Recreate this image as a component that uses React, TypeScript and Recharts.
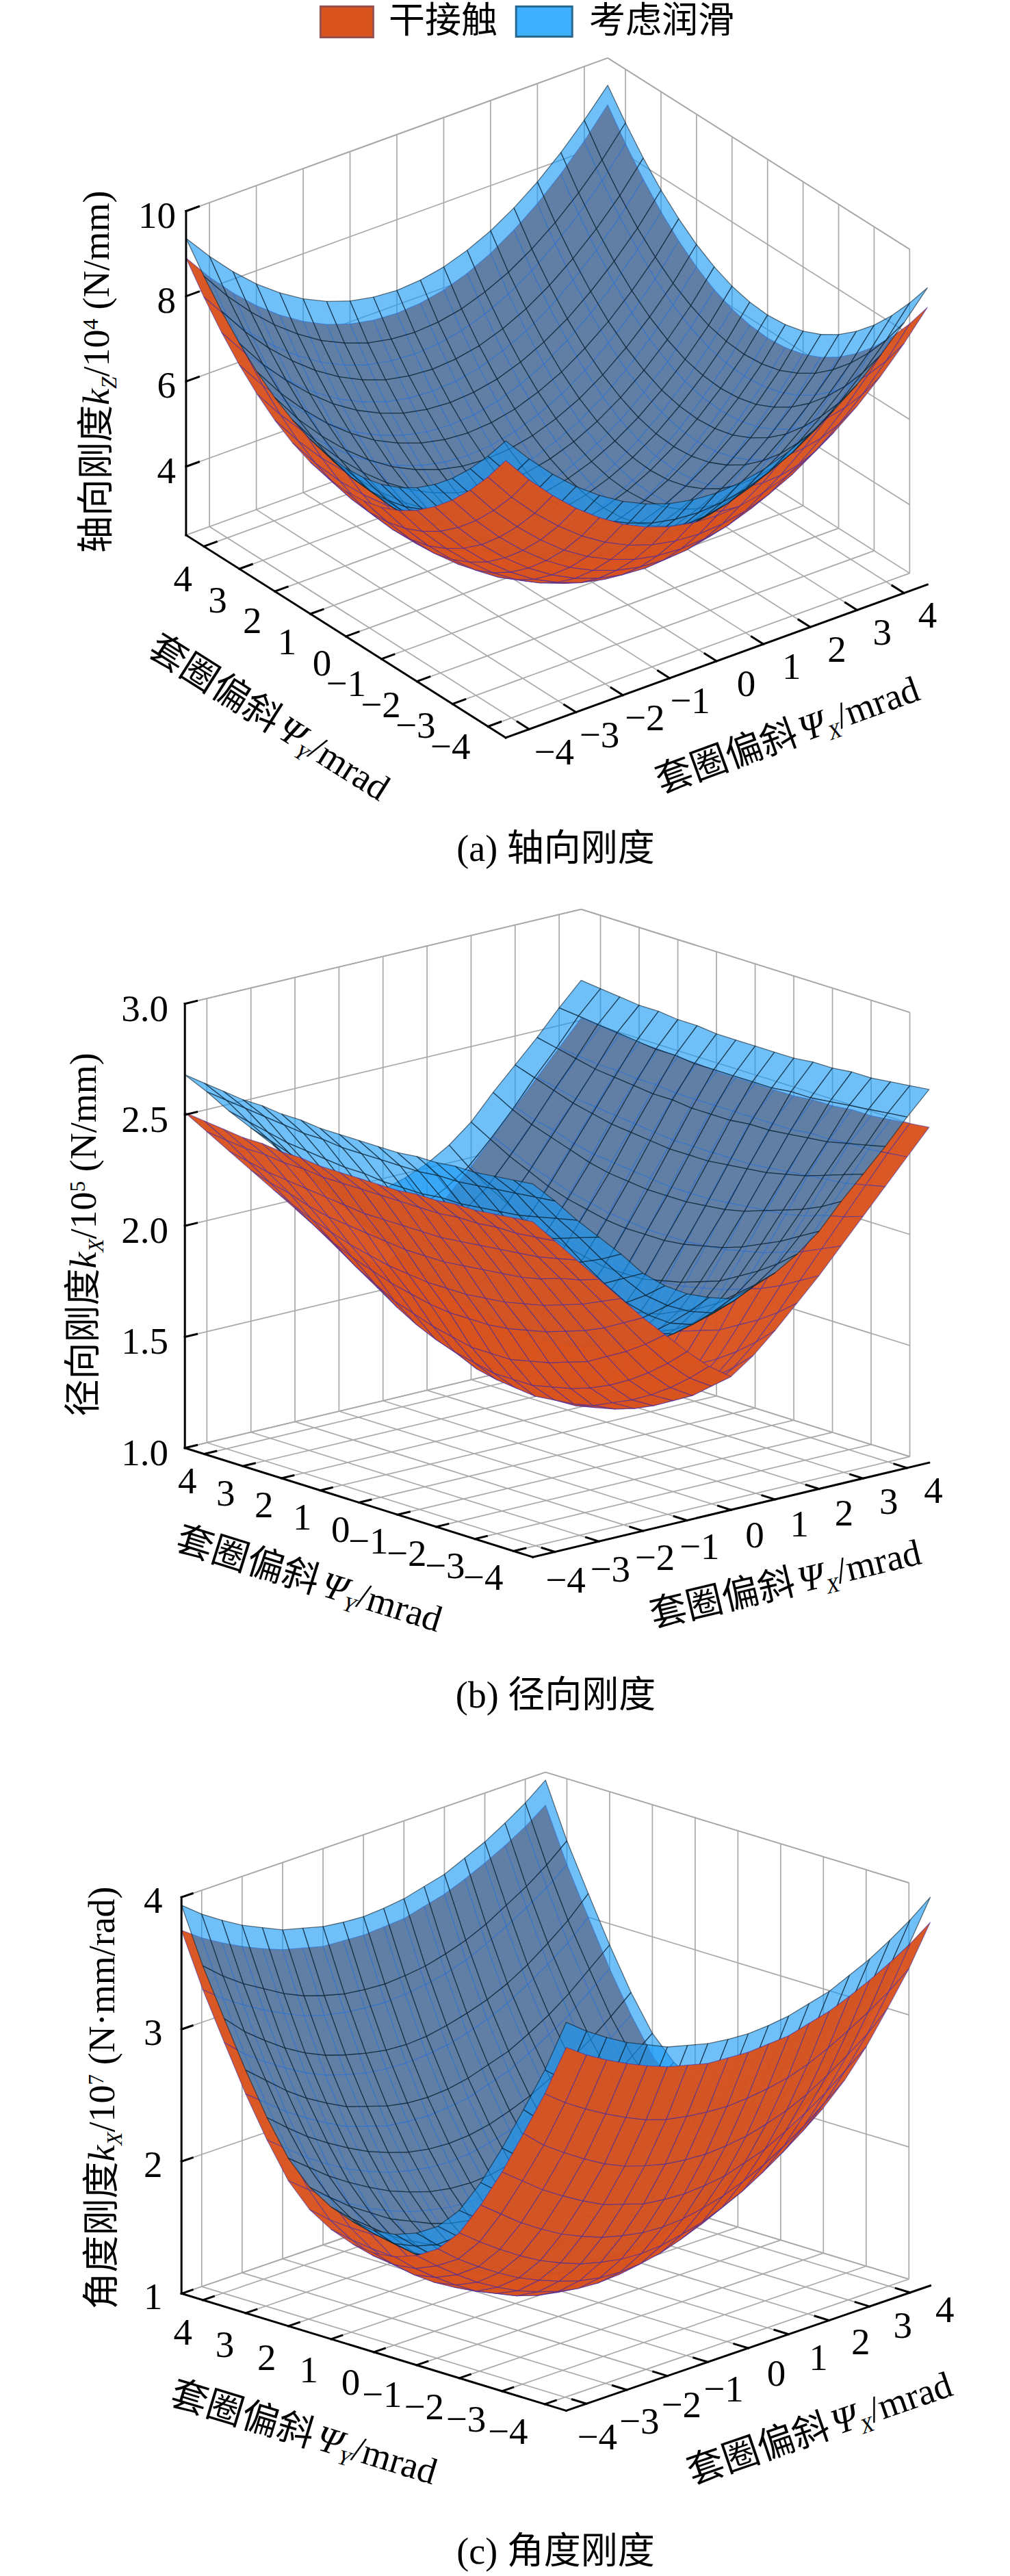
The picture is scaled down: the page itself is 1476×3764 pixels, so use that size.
import { Scatter, ScatterChart, XAxis, YAxis } from 'recharts';

const PAGE_WIDTH = 1476;
const PAGE_HEIGHT = 3764;
const FONT = '"Liberation Serif", "Noto Sans CJK SC", serif';

// mesh positions and tick values, mrad
const gridCoords = [-4.5, -4, -3.5, -3, -2.5, -2, -1.5, -1, -0.5, 0, 0.5, 1, 1.5, 2, 2.5, 3, 3.5, 4, 4.5];
const tiltTicks = [-4, -3, -2, -1, 0, 1, 2, 3, 4];
const tiltTickLabels = ['−4', '−3', '−2', '−1', '0', '1', '2', '3', '4'];
const legendNames = ['干接触', '考虑润滑'];

const kzTicks = [4, 6, 8, 10];
const kzTickLabels = ['4', '6', '8', '10'];
const krTicks = [1, 1.5, 2, 2.5, 3];
const krTickLabels = ['1.0', '1.5', '2.0', '2.5', '3.0'];
const kaTicks = [1, 2, 3, 4];
const kaTickLabels = ['1', '2', '3', '4'];

// all surfaces read the same in the four quadrants: rows |Y| = 0..4.5, columns |X| = 0..4.5
const kzDry = [
    [2.5, 2.54, 2.66, 2.87, 3.15, 3.52, 3.97, 4.5, 5.11, 5.8],
    [2.54, 2.58, 2.7, 2.91, 3.19, 3.56, 4.01, 4.54, 5.15, 5.84],
    [2.66, 2.7, 2.82, 3.03, 3.31, 3.68, 4.13, 4.65, 5.26, 5.95],
    [2.87, 2.91, 3.03, 3.24, 3.52, 3.88, 4.33, 4.85, 5.45, 6.14],
    [3.15, 3.19, 3.31, 3.52, 3.79, 4.16, 4.6, 5.12, 5.72, 6.41],
    [3.52, 3.56, 3.68, 3.88, 4.16, 4.52, 4.96, 5.47, 6.07, 6.76],
    [3.97, 4.01, 4.13, 4.33, 4.6, 4.96, 5.4, 5.91, 6.5, 7.18],
    [4.5, 4.54, 4.65, 4.85, 5.12, 5.47, 5.91, 6.42, 7.0, 7.68],
    [5.11, 5.15, 5.26, 5.45, 5.72, 6.07, 6.5, 7.0, 7.58, 8.25],
    [5.8, 5.84, 5.95, 6.14, 6.41, 6.76, 7.18, 7.68, 8.25, 8.9],
];
const kzLube = [
    [3.05, 3.09, 3.21, 3.41, 3.69, 4.05, 4.5, 5.02, 5.62, 6.34],
    [3.09, 3.13, 3.25, 3.45, 3.73, 4.09, 4.54, 5.06, 5.66, 6.38],
    [3.21, 3.25, 3.37, 3.57, 3.85, 4.21, 4.65, 5.17, 5.77, 6.49],
    [3.41, 3.45, 3.57, 3.77, 4.05, 4.41, 4.85, 5.37, 5.97, 6.68],
    [3.69, 3.73, 3.85, 4.05, 4.32, 4.68, 5.12, 5.64, 6.23, 6.94],
    [4.05, 4.09, 4.21, 4.41, 4.68, 5.04, 5.47, 5.99, 6.58, 7.28],
    [4.5, 4.54, 4.65, 4.85, 5.12, 5.47, 5.91, 6.42, 7.0, 7.69],
    [5.02, 5.06, 5.17, 5.37, 5.64, 5.99, 6.42, 6.92, 7.5, 8.18],
    [5.62, 5.66, 5.77, 5.97, 6.23, 6.58, 7.0, 7.5, 8.07, 8.74],
    [6.34, 6.38, 6.49, 6.68, 6.94, 7.28, 7.69, 8.18, 8.74, 9.36],
];
const krDry = [
    [1.25, 1.29, 1.39, 1.53, 1.71, 1.87, 2.04, 2.2, 2.36, 2.46],
    [1.25, 1.3, 1.39, 1.53, 1.71, 1.87, 2.04, 2.2, 2.36, 2.46],
    [1.27, 1.31, 1.41, 1.55, 1.72, 1.88, 2.05, 2.2, 2.36, 2.46],
    [1.29, 1.33, 1.43, 1.57, 1.74, 1.89, 2.06, 2.21, 2.36, 2.47],
    [1.32, 1.37, 1.46, 1.6, 1.76, 1.91, 2.07, 2.22, 2.37, 2.47],
    [1.36, 1.41, 1.5, 1.63, 1.79, 1.93, 2.08, 2.23, 2.37, 2.48],
    [1.41, 1.46, 1.55, 1.68, 1.82, 1.96, 2.1, 2.24, 2.38, 2.48],
    [1.46, 1.52, 1.61, 1.73, 1.86, 1.99, 2.13, 2.25, 2.38, 2.49],
    [1.53, 1.59, 1.68, 1.79, 1.91, 2.03, 2.15, 2.27, 2.39, 2.5],
    [1.6, 1.67, 1.76, 1.86, 1.96, 2.07, 2.18, 2.29, 2.4, 2.51],
];
const krLube = [
    [1.52, 1.55, 1.63, 1.75, 1.9, 2.05, 2.21, 2.37, 2.52, 2.63],
    [1.53, 1.56, 1.63, 1.75, 1.9, 2.05, 2.21, 2.37, 2.52, 2.63],
    [1.54, 1.57, 1.65, 1.77, 1.91, 2.06, 2.22, 2.38, 2.52, 2.63],
    [1.57, 1.6, 1.67, 1.79, 1.93, 2.07, 2.23, 2.38, 2.53, 2.64],
    [1.61, 1.64, 1.71, 1.82, 1.95, 2.09, 2.24, 2.39, 2.53, 2.64],
    [1.65, 1.68, 1.75, 1.85, 1.98, 2.12, 2.26, 2.4, 2.54, 2.65],
    [1.71, 1.74, 1.8, 1.9, 2.02, 2.15, 2.28, 2.41, 2.55, 2.65],
    [1.78, 1.81, 1.87, 1.95, 2.06, 2.18, 2.31, 2.43, 2.56, 2.66],
    [1.86, 1.89, 1.94, 2.01, 2.11, 2.22, 2.34, 2.45, 2.57, 2.67],
    [1.95, 1.98, 2.02, 2.08, 2.16, 2.27, 2.37, 2.47, 2.58, 2.68],
];
const kaDry = [
    [1.04, 1.05, 1.08, 1.13, 1.2, 1.28, 1.37, 1.48, 1.61, 1.75],
    [1.07, 1.08, 1.11, 1.16, 1.23, 1.3, 1.4, 1.51, 1.63, 1.77],
    [1.15, 1.16, 1.19, 1.24, 1.3, 1.38, 1.47, 1.58, 1.7, 1.83],
    [1.28, 1.29, 1.32, 1.37, 1.43, 1.5, 1.59, 1.69, 1.8, 1.93],
    [1.47, 1.48, 1.51, 1.55, 1.61, 1.68, 1.77, 1.87, 1.98, 2.1],
    [1.72, 1.73, 1.76, 1.8, 1.86, 1.93, 2.02, 2.12, 2.24, 2.36],
    [2.02, 2.03, 2.05, 2.1, 2.15, 2.23, 2.32, 2.42, 2.54, 2.66],
    [2.37, 2.38, 2.4, 2.44, 2.49, 2.56, 2.65, 2.75, 2.86, 3.0],
    [2.78, 2.79, 2.81, 2.84, 2.89, 2.96, 3.04, 3.13, 3.23, 3.35],
    [3.24, 3.25, 3.26, 3.3, 3.34, 3.4, 3.47, 3.55, 3.64, 3.75],
];
const kaLube = [
    [1.18, 1.19, 1.22, 1.27, 1.34, 1.42, 1.52, 1.64, 1.77, 1.92],
    [1.21, 1.22, 1.25, 1.3, 1.37, 1.45, 1.55, 1.67, 1.8, 1.94],
    [1.29, 1.3, 1.33, 1.38, 1.45, 1.53, 1.62, 1.74, 1.86, 2.0],
    [1.42, 1.43, 1.46, 1.51, 1.58, 1.65, 1.75, 1.85, 1.97, 2.1],
    [1.61, 1.62, 1.65, 1.7, 1.76, 1.84, 1.93, 2.03, 2.15, 2.27],
    [1.86, 1.87, 1.9, 1.95, 2.01, 2.09, 2.18, 2.28, 2.4, 2.53],
    [2.16, 2.17, 2.2, 2.25, 2.3, 2.38, 2.47, 2.58, 2.71, 2.84],
    [2.51, 2.52, 2.55, 2.59, 2.64, 2.71, 2.8, 2.91, 3.03, 3.18],
    [2.92, 2.93, 2.95, 2.99, 3.04, 3.11, 3.2, 3.29, 3.4, 3.53],
    [3.38, 3.39, 3.41, 3.45, 3.49, 3.56, 3.63, 3.72, 3.82, 3.94],
];

const fromQuadrant = (rows: number[][]) => (xi: number, yi: number) => rows[Math.abs(yi - 9)][Math.abs(xi - 9)];

const surfaceStyles: any = {
    dry: { fill: '#d9531e', fillOpacity: 0.97, stroke: 'rgb(60,40,170)', strokeOpacity: 0.55, strokeWidth: 1.2 },
    lube: { fill: 'rgb(22,152,244)', fillOpacity: 0.62, stroke: '#0b1a26', strokeOpacity: 0.6, strokeWidth: 1.3 },
};

const math = (text: string, extra: any = {}) => ({ text, ...extra });

const panels: any[] = [
    {
        id: 'a',
        left: { x: 271.9, y: 781.9 },
        front: { x: 739.1, y: 1077.9 },
        right: { x: 1355.3, y: 854.1 },
        zMin: 2.39,
        zMax: 10,
        zTopY: 308.5,
        zTicks: kzTicks,
        zLabels: kzTickLabels,
        zLabelX: 257,
        zLabelDy: 24,
        yLabelFrom: { x: 266.9, y: 845.8 },
        yLabelTo: { x: 673.4, y: 1090.4 },
        xLabelFrom: { x: 825, y: 1098.7 },
        xLabelTo: { x: 1355.3, y: 898 },
        dry: fromQuadrant(kzDry),
        lube: fromQuadrant(kzLube),
        zTitle: { x: 159, y: 808, spans: [math('轴向刚度'), math('k', { italic: true }), math('Z', { italic: true, sub: true }), math('/10'), math('4', { sup: true }), math(' (N/mm)')] },
        yTitle: { x: 213.5, y: 955.7 },
        xTitle: { x: 966.4, y: 1160 },
        caption: { text: '(a) 轴向刚度', y: 1258 },
    },
    {
        id: 'b',
        left: { x: 270.2, y: 2115.7 },
        front: { x: 778.7, y: 2275.2 },
        right: { x: 1357.8, y: 2137.2 },
        zMin: 1,
        zMax: 3,
        zTopY: 1466.6,
        zTicks: krTicks,
        zLabels: krTickLabels,
        zLabelX: 246,
        zLabelDy: 25,
        yLabelFrom: { x: 273.6, y: 2163.6 },
        yLabelTo: { x: 721.4, y: 2304.7 },
        xLabelFrom: { x: 841.8, y: 2308.7 },
        xLabelTo: { x: 1363.7, y: 2177.1 },
        dry: fromQuadrant(krDry),
        lube: fromQuadrant(krLube),
        zTitle: { x: 140, y: 2069.5, spans: [math('径向刚度'), math('k', { italic: true }), math('X', { italic: true, sub: true }), math('/10'), math('5', { sup: true }), math(' (N/mm)')] },
        yTitle: { x: 254, y: 2264 },
        xTitle: { x: 954.8, y: 2378.4 },
        caption: { text: '(b) 径向刚度', y: 2495 },
    },
    {
        id: 'c',
        left: { x: 265.2, y: 3351.3 },
        front: { x: 827.5, y: 3522.4 },
        right: { x: 1359.5, y: 3339.7 },
        zMin: 1,
        zMax: 4,
        zTopY: 2772.2,
        zTicks: kaTicks,
        zLabels: kaTickLabels,
        zLabelX: 237.4,
        zLabelDy: 23,
        yLabelFrom: { x: 266.9, y: 3407.9 },
        yLabelTo: { x: 757.6, y: 3552.6 },
        xLabelFrom: { x: 888, y: 3560.4 },
        xLabelTo: { x: 1380.5, y: 3374.6 },
        dry: fromQuadrant(kaDry),
        lube: fromQuadrant(kaLube),
        zTitle: { x: 167, y: 3374.6, spans: [math('角度刚度'), math('k', { italic: true }), math('X', { italic: true, sub: true }), math('/10'), math('7', { sup: true }), math(' (N·mm/rad)')] },
        yTitle: { x: 246, y: 3513 },
        xTitle: { x: 1012, y: 3630.7 },
        caption: { text: '(c) 角度刚度', y: 3746 },
    },
];

const project = (p: any, X: number, Y: number, Z: number) => {
    const u = (X + 4.5) / 9;
    const v = (Y + 4.5) / 9;
    const zScale = (p.left.y - p.zTopY) / (p.zMax - p.zMin);
    return {
        x: p.front.x + u * (p.right.x - p.front.x) + v * (p.left.x - p.front.x),
        y: p.front.y + u * (p.right.y - p.front.y) + v * (p.left.y - p.front.y) - (Z - p.zMin) * zScale,
    };
};

// walls and floor behind the surfaces, flat list of segment end points
const gridSegments = (p: any) => {
    const pts: any[] = [];
    const seg = (a: number[], b: number[]) => {
        pts.push(project(p, a[0], a[1], a[2]), project(p, b[0], b[1], b[2]));
    };
    tiltTicks.forEach((t) => {
        seg([t, 4.5, p.zMin], [t, 4.5, p.zMax]);
        seg([4.5, t, p.zMin], [4.5, t, p.zMax]);
        seg([t, -4.5, p.zMin], [t, 4.5, p.zMin]);
        seg([-4.5, t, p.zMin], [4.5, t, p.zMin]);
    });
    [p.zMin, ...p.zTicks, p.zMax].forEach((z: number) => {
        seg([-4.5, 4.5, z], [4.5, 4.5, z]);
        seg([4.5, 4.5, z], [4.5, -4, z]);
    });
    return pts;
};

const axisSegments = (p: any) => {
    const pts: any[] = [];
    const seg = (a: number[], b: number[]) => {
        pts.push(project(p, a[0], a[1], a[2]), project(p, b[0], b[1], b[2]));
    };
    seg([-4.5, 4.5, p.zMin], [-4.5, 4.5, p.zMax]);
    seg([-4.5, 4.5, p.zMin], [-4.5, -4.5, p.zMin]);
    seg([-4.5, -4.5, p.zMin], [4.5, -4.5, p.zMin]);
    p.zTicks.forEach((z: number) => seg([-4.5, 4.5, z], [-4.23, 4.5, z]));
    tiltTicks.forEach((t) => {
        seg([-4.5, t, p.zMin], [-4.23, t, p.zMin]);
        seg([t, -4.5, p.zMin], [t, -4.17, p.zMin]);
    });
    return pts;
};

const shoelace = (c: any[]) => {
    let s = 0;
    c.forEach((a, i) => {
        const b = c[(i + 1) % c.length];
        s += a.x * b.y - b.x * a.y;
    });
    return s;
};

// A sight line crosses the bowl twice. From the far side to the near side the paint order is
// dry top, lube top, lube underside, dry underside; inside one layer far quads go first.
const buildQuads = (p: any) => {
    const ex = { x: (p.right.x - p.front.x) / 9, y: (p.right.y - p.front.y) / 9 };
    const ey = { x: (p.left.x - p.front.x) / 9, y: (p.left.y - p.front.y) / 9 };
    const zScale = (p.left.y - p.zTopY) / (p.zMax - p.zMin);
    const dY = -ex.x / ey.x;
    const dZ = (ex.y + dY * ey.y) / zScale;
    const zRange = p.zMax - p.zMin;
    const depthOf = (X: number, Y: number, Z: number) => X / 81 + (dY * Y) / 81 + (dZ * Z) / (zRange * zRange);
    const topSign = Math.sign(ex.x * ey.y - ex.y * ey.x);

    const quads: any[] = [];
    ['dry', 'lube'].forEach((kind) => {
        const read = p[kind];
        for (let yi = 0; yi < 18; yi++) {
            for (let xi = 0; xi < 18; xi++) {
                const cells = [
                    [xi, yi],
                    [xi + 1, yi],
                    [xi + 1, yi + 1],
                    [xi, yi + 1],
                ];
                let depth = 0;
                const corners = cells.map(([a, b]) => {
                    const X = gridCoords[a];
                    const Y = gridCoords[b];
                    const Z = read(a, b);
                    depth += depthOf(X, Y, Z) / 4;
                    return project(p, X, Y, Z);
                });
                const top = Math.sign(shoelace(corners)) === topSign;
                const layer = top ? (kind === 'dry' ? 0 : 1) : kind === 'lube' ? 2 : 3;
                quads.push({ kind, depth, corners, layer });
            }
        }
    });
    quads.sort((a, b) => a.layer - b.layer || b.depth - a.depth);
    return quads;
};

const noSymbol = () => null;

const segmentLine = (style: any) => (props: any) => {
    const lines: any[] = [];
    for (let i = 0; i + 1 < props.points.length; i += 2) {
        const a = props.points[i];
        const b = props.points[i + 1];
        lines.push(<line key={i} x1={a.x} y1={a.y} x2={b.x} y2={b.y} {...style} />);
    }
    return <g>{lines}</g>;
};

const quadLine = (quads: any[]) => (props: any) => (
    <g>
        {quads.map((q, i) => {
            const pts = props.points.slice(i * 4, i * 4 + 4).map((c: any) => `${c.x},${c.y}`).join(' ');
            return <polygon key={i} points={pts} strokeLinejoin="round" {...surfaceStyles[q.kind]} />;
        })}
    </g>
);

const PlainLabel = (props: any) => {
    const { cx, cy, payload } = props;
    return (
        <text x={cx} y={cy} fontFamily={FONT} fontSize={payload.size} textAnchor={payload.anchor} fill="#000">
            {payload.text}
        </text>
    );
};

const RichLabel = (props: any) => {
    const { cx, cy, payload } = props;
    const size = payload.size;
    let pending = 0;
    return (
        <text transform={`translate(${cx},${cy}) rotate(${payload.rotate})`} fontFamily={FONT} fontSize={size} fill="#000">
            {payload.spans.map((s: any, i: number) => {
                let shift = pending;
                pending = 0;
                if (s.sub) {
                    shift += size * 0.2;
                    pending = -size * 0.2;
                }
                if (s.sup) {
                    shift -= size * 0.3;
                    pending = size * 0.3;
                }
                return (
                    <tspan key={i} dy={shift} dx={s.gap || 0} fontStyle={s.italic ? 'italic' : 'normal'} fontSize={s.sub || s.sup ? size * 0.58 : size}>
                        {s.text}
                    </tspan>
                );
            })}
        </text>
    );
};

const LegendSwatch = (props: any) => {
    const { cx, cy, payload } = props;
    return <rect x={cx} y={cy} width={payload.w} height={payload.h} fill={payload.fill} stroke={payload.stroke} strokeWidth={3} />;
};

const angleOf = (a: any, b: any) => (Math.atan2(b.y - a.y, b.x - a.x) * 180) / Math.PI;

const tickLabelPoints = (p: any) => {
    const out: any[] = [];
    tiltTicks.forEach((t, i) => {
        const w = i / 8;
        // the Y axis runs 4 .. -4 from the left corner to the front corner
        const yLab = tiltTickLabels[8 - i];
        out.push({
            x: p.yLabelFrom.x + w * (p.yLabelTo.x - p.yLabelFrom.x) + 14,
            y: p.yLabelFrom.y + w * (p.yLabelTo.y - p.yLabelFrom.y) + 18.5,
            text: yLab,
            size: 55,
            anchor: 'end',
        });
        out.push({
            x: p.xLabelFrom.x + w * (p.xLabelTo.x - p.xLabelFrom.x) + 14,
            y: p.xLabelFrom.y + w * (p.xLabelTo.y - p.xLabelFrom.y) + 18.5,
            text: tiltTickLabels[i],
            size: 55,
            anchor: 'end',
        });
    });
    p.zTicks.forEach((z: number, i: number) => {
        out.push({ x: p.zLabelX, y: project(p, -4.5, 4.5, z).y + p.zLabelDy, text: p.zLabels[i], size: 55, anchor: 'end' });
    });
    out.push({ x: 812, y: p.caption.y, text: p.caption.text, size: 54, anchor: 'middle' });
    return out;
};

const titlePoints = (p: any) => [
    { x: p.zTitle.x, y: p.zTitle.y, rotate: -90, size: 54, spans: p.zTitle.spans },
    {
        x: p.yTitle.x,
        y: p.yTitle.y,
        rotate: angleOf(p.left, p.front),
        size: 54,
        spans: [math('套圈偏斜'), math('Ψ', { italic: true, gap: 6 }), math('Y', { italic: true, sub: true }), math('/mrad')],
    },
    {
        x: p.xTitle.x,
        y: p.xTitle.y,
        rotate: angleOf(p.front, p.right),
        size: 54,
        spans: [math('套圈偏斜'), math('Ψ', { italic: true, gap: 6 }), math('X', { italic: true, sub: true }), math('/mrad')],
    },
];

const legendSwatches = [
    { x: 468.4, y: 9.5, w: 77, h: 45, fill: '#d9531c', stroke: '#96504f' },
    { x: 754.2, y: 9.5, w: 82, h: 44, fill: '#3fb0ff', stroke: '#27688f' },
];
const legendLabels = [
    { x: 568, y: 48, text: legendNames[0], size: 53, anchor: 'start' },
    { x: 861, y: 48, text: legendNames[1], size: 53, anchor: 'start' },
];

export default function App() {
    return (
        <div style={{ position: 'absolute', left: 0, top: 0, width: PAGE_WIDTH, height: PAGE_HEIGHT, background: '#fff' }}>
            <ScatterChart width={PAGE_WIDTH} height={PAGE_HEIGHT} margin={{ top: 0, right: 0, bottom: 0, left: 0 }}>
                <XAxis type="number" dataKey="x" domain={[0, PAGE_WIDTH]} hide allowDataOverflow />
                <YAxis type="number" dataKey="y" domain={[0, PAGE_HEIGHT]} reversed hide allowDataOverflow />
                {panels.flatMap((p) => {
                    const quads = buildQuads(p);
                    return [
                        <Scatter
                            key={`${p.id}-grid`}
                            data={gridSegments(p)}
                            shape={noSymbol}
                            line={segmentLine({ stroke: '#a9a9a9', strokeWidth: 1.7 })}
                            isAnimationActive={false}
                        />,
                        <Scatter
                            key={`${p.id}-surface`}
                            data={quads.flatMap((q) => q.corners)}
                            shape={noSymbol}
                            line={quadLine(quads)}
                            isAnimationActive={false}
                        />,
                        <Scatter
                            key={`${p.id}-axes`}
                            data={axisSegments(p)}
                            shape={noSymbol}
                            line={segmentLine({ stroke: '#000', strokeWidth: 3, strokeLinecap: 'square' })}
                            isAnimationActive={false}
                        />,
                        <Scatter key={`${p.id}-ticks`} data={tickLabelPoints(p)} shape={PlainLabel} isAnimationActive={false} />,
                        <Scatter key={`${p.id}-titles`} data={titlePoints(p)} shape={RichLabel} isAnimationActive={false} />,
                    ];
                })}
                <Scatter data={legendSwatches} shape={LegendSwatch} isAnimationActive={false} />
                <Scatter data={legendLabels} shape={PlainLabel} isAnimationActive={false} />
            </ScatterChart>
        </div>
    );
}
